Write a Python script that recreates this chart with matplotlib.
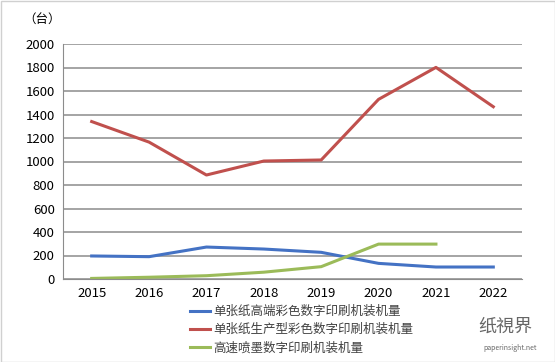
import matplotlib
matplotlib.use("Agg")
import matplotlib.pyplot as plt
from matplotlib.patches import Rectangle

plt.rcParams['font.family'] = ['Noto Sans CJK SC', 'DejaVu Sans']

years = ['2015', '2016', '2017', '2018', '2019', '2020', '2021', '2022']
high_end = [196, 190, 272, 255, 227, 133, 102, 102]
production = [1340, 1165, 885, 1004, 1013, 1529, 1801, 1466]
inkjet = [5, 15, 28, 58, 105, 297, 297]

names = ['单张纸高端彩色数字印刷机装机量', '单张纸生产型彩色数字印刷机装机量', '高速喷墨数字印刷机装机量']
colors = ['#4472C4', '#C0504D', '#9BBB59']

fig = plt.figure(figsize=(5.55, 3.62), dpi=100)
ax = fig.add_axes([63/555, 1 - 279/362, 459/555, 235/362])

x = list(range(len(years)))
ax.plot(x, high_end, color=colors[0], lw=2.2, label=names[0])
ax.plot(x, production, color=colors[1], lw=2.2, label=names[1])
ax.plot(x[:len(inkjet)], inkjet, color=colors[2], lw=2.2, label=names[2])

ax.set_xlim(-0.5, len(years) - 0.5)
ax.set_ylim(0, 2000)
ax.set_yticks(range(0, 2001, 200))
ax.set_xticks(x)
ax.set_xticklabels(years)
ax.grid(axis='y', color='#8c8c8c', lw=1.1)
ax.set_axisbelow(True)
for s in ['top', 'right']:
    ax.spines[s].set_visible(False)
ax.spines['left'].set_color('#8c8c8c')
ax.spines['bottom'].set_color('#8c8c8c')
ax.tick_params(length=0, labelsize=9.5, pad=6)
for lbl in ax.get_xticklabels() + ax.get_yticklabels():
    lbl.set_color('#000000')
    lbl.set_fontweight('medium')

fig.text(42/555, 1 - 20/362, '（台）', fontsize=9, ha='center', va='center')

fig.legend(loc='upper left', bbox_to_anchor=(190/555, 1 - 305/362), frameon=False,
           fontsize=9, handlelength=1.6, handletextpad=0.25, labelspacing=0.42,
           labelcolor='#404040', borderaxespad=0, borderpad=0)

fig.text(505/555, 1 - 327/362, '纸視界', fontsize=13, color='#666666', ha='center', va='center')
fig.text(510/555, 1 - 348/362, 'paperinsight.net', fontsize=5, color='#666666', ha='center', va='center')

fig.patches.append(Rectangle((0.5/555, 0.5/362), 1 - 1/555, 1 - 1/362, transform=fig.transFigure,
                             fill=False, edgecolor='#d0d0d0', lw=1))

fig.savefig('out.png', dpi=100)
